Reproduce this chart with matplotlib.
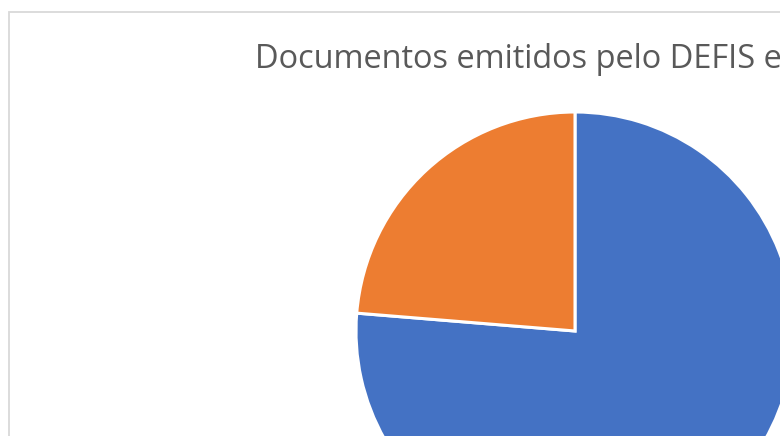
import matplotlib.pyplot as plt
from matplotlib.patches import Rectangle

# data (slice shares, %)
categories = ['Categoria 1', 'Categoria 2']
values = [76.3, 23.7]
colors = ['#4472C4', '#ED7D31']
title = 'Documentos emitidos pelo DEFIS em'

W, H = 780, 436
fig = plt.figure(figsize=(W / 100, H / 100), dpi=100)

# chart frame (runs off the right and bottom edges)
fig.patches.append(Rectangle((8.5 / W, -0.1), 1.2, (H - 12.5) / H + 0.1,
                             transform=fig.transFigure, fill=False,
                             edgecolor='#D9D9D9', linewidth=1.3))

# pie axes: center (575, 331) px, radius 219 px
cx, cy, r = 575, 331, 219
ax = fig.add_axes([(cx - r) / W, (H - cy - r) / H, 2 * r / W, 2 * r / H])
ax.pie(values, colors=colors, startangle=90, counterclock=False, radius=1,
       wedgeprops=dict(edgecolor='white', linewidth=2.2))
ax.set_xlim(-1, 1)
ax.set_ylim(-1, 1)
ax.set_aspect('equal')
ax.axis('off')

fig.text(255 / W, (H - 68) / H, title, ha='left', va='baseline',
         fontsize=23.4, color='#595959', family='Open Sans')

fig.savefig('out.png', dpi=100)
